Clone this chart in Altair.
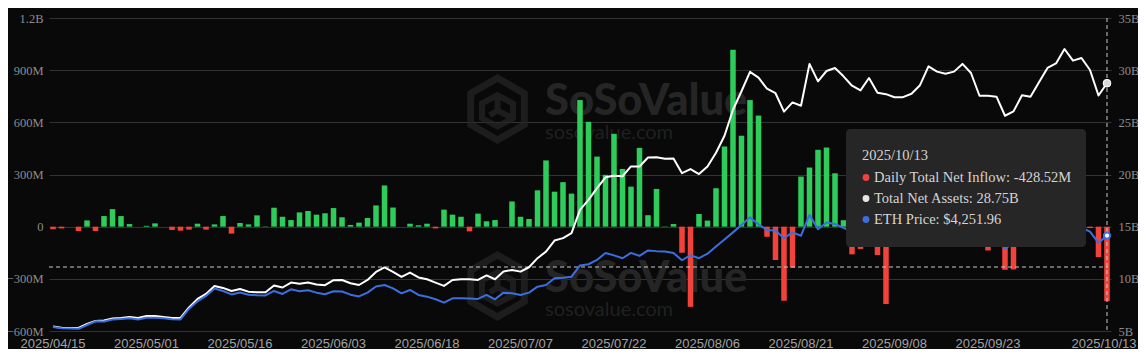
import altair as alt
import pandas as pd

# ---------------- data ----------------
month_days = {
    4: [15, 16, 17, 21, 22, 23, 24, 25, 28, 29, 30],
    5: [1, 2, 5, 6, 7, 8, 9, 12, 13, 14, 15, 16, 19, 20, 21, 22, 23, 27, 28, 29, 30],
    6: [2, 3, 4, 5, 6, 9, 10, 11, 12, 13, 16, 17, 18, 20, 23, 24, 25, 26, 27, 30],
    7: [1, 2, 3, 7, 8, 9, 10, 11, 14, 15, 16, 17, 18, 21, 22, 23, 24, 25, 28, 29, 30, 31],
    8: [1, 4, 5, 6, 7, 8, 11, 12, 13, 14, 15, 18, 19, 20, 21, 22, 25, 26, 27, 28, 29],
    9: [2, 3, 4, 5, 8, 9, 10, 11, 12, 15, 16, 17, 18, 19, 22, 23, 24, 25, 26, 29, 30],
    10: [1, 2, 3, 6, 7, 8, 9, 10, 13],
}
dates = [f"2025/{m:02d}/{d:02d}" for m, days in month_days.items() for d in days]

tick_dates = ["2025/04/15", "2025/05/01", "2025/05/16", "2025/06/03", "2025/06/18",
              "2025/07/07", "2025/07/22", "2025/08/06", "2025/08/21", "2025/09/08",
              "2025/09/23", "2025/10/13"]

# Daily Total Net Inflow (million USD)
inflow_m = [
    -15, -10, 0, -25, 36, -25, 61, 101, 61, 15,
    0, 5, 19, 0, -19, -23, -17, 17, -17, 13,
    61, -40, 21, 13, 65, 2, 109, 57, 38, 82,
    90, 69, 77, 107, 54, 10, 23, 50, 122, 237,
    110, 0, 17, 8, 17, -10, 98, 69, 57, -27,
    75, 31, 38, 0, 145, 57, 44, 209, 381, 201,
    256, 190, 728, 603, 403, 298, 534, 332, 230, 453,
    66, 217, 2, 15, -150, -461, 73, 35, 221, 461,
    1018, 523, 728, 639, -58, -192, -426, -236, 288, 340,
    442, 455, 307, 37, -159, -128, -38, -163, -445, -97,
    45, 172, 113, 406, 360, -62, -2, 213, 48, -76,
    -137, -79, -248, -246, 547, 127, 81, 307, 233, 177,
    421, -8, -8, -175, -428.52,
]

# Total Net Assets (billion USD)
tna_b = [
    5.43, 5.32, 5.29, 5.29, 5.67, 5.96, 6.01, 6.20, 6.25, 6.34,
    6.25, 6.44, 6.44, 6.34, 6.25, 6.25, 7.26, 8.07, 8.55, 9.32,
    9.13, 8.84, 9.03, 8.77, 8.71, 8.71, 9.37, 9.17, 9.64, 9.54,
    9.64, 9.46, 9.39, 9.87, 9.89, 9.58, 9.41, 9.89, 10.66, 11.09,
    10.66, 10.18, 10.60, 10.13, 9.96, 9.64, 9.32, 9.89, 9.96, 9.96,
    9.89, 10.33, 9.96, 10.71, 10.85, 10.69, 11.11, 11.98, 12.61, 13.67,
    13.90, 14.38, 16.61, 17.57, 18.69, 19.73, 19.88, 19.83, 20.77, 20.77,
    21.63, 21.65, 21.51, 21.54, 20.13, 20.52, 20.04, 20.77, 22.08, 23.71,
    26.21, 27.98, 29.84, 29.28, 28.22, 27.79, 26.02, 26.91, 26.59, 30.60,
    28.93, 29.92, 30.21, 29.41, 28.51, 28.06, 29.25, 27.84, 27.70, 27.41,
    27.41, 27.74, 28.56, 30.36, 29.86, 29.66, 29.86, 30.60, 29.73, 27.55,
    27.55, 27.46, 25.63, 26.05, 27.60, 27.46, 28.85, 30.21, 30.65, 32.03,
    30.91, 31.17, 30.02, 27.57, 28.75,
]

# ETH price (USD)
eth_usd = [
    1604, 1566, 1558, 1552, 1662, 1769, 1766, 1822, 1836, 1856,
    1822, 1874, 1870, 1856, 1827, 1824, 2126, 2349, 2503, 2721,
    2648, 2547, 2605, 2538, 2523, 2520, 2648, 2561, 2697, 2639,
    2668, 2599, 2552, 2639, 2634, 2541, 2489, 2599, 2779, 2822,
    2721, 2576, 2677, 2532, 2483, 2407, 2309, 2436, 2440, 2432,
    2416, 2532, 2407, 2599, 2581, 2532, 2599, 2773, 2822, 3016,
    3034, 3063, 3388, 3422, 3547, 3750, 3678, 3596, 3750, 3663,
    3823, 3802, 3794, 3750, 3538, 3683, 3596, 3727, 3933, 4136,
    4345, 4562, 4780, 4577, 4417, 4397, 4176, 4345, 4249, 4852,
    4437, 4629, 4591, 4475, 4370, 4330, 4450, 4300, 4310, 4310,
    4300, 4350, 4460, 4710, 4520, 4500, 4590, 4590, 4470, 4200,
    4170, 4150, 3870, 4030, 4210, 4150, 4350, 4480, 4510, 4690,
    4460, 4480, 4368, 4040, 4251.96,
]

df = pd.DataFrame({
    "date": dates,
    "inflow": [v * 1e6 for v in inflow_m],
    "tna": [v * 1e9 for v in tna_b],
    "eth": eth_usd,
})
df["sign"] = ["pos" if v >= 0 else "neg" for v in inflow_m]
last = df.iloc[[-1]]

# ---------------- style ----------------
BG = "#090909"
GREEN = "#2ecc5a"
RED = "#f2433a"
BLUE = "#3b6fe0"
WHITE = "#ffffff"
W, H = 1062, 313

x_enc = alt.X(
    "date:O", sort=dates, title=None,
    scale=alt.Scale(type="band", paddingInner=0.35, paddingOuter=0.147),
    axis=alt.Axis(values=tick_dates, labelAngle=0, domain=False, ticks=False, grid=False,
                  labelFont="Liberation Sans", labelFontSize=13, labelColor="#a3a3a3",
                  labelPadding=6, labelOverlap=False,
                  labelOffset={"condition": {"test": f"datum.value == '{dates[-1]}'",
                                             "value": -3}, "value": 0}),
)
x_plain = alt.X("date:O", sort=dates)

dummy = pd.DataFrame({"k": [0]})

# ---------------- watermark ----------------
hexagon = "M0,-1 L0.866,-0.5 L0.866,0.5 L0,1 L-0.866,0.5 L-0.866,-0.5 Z"
inner = ("M-0.5,-0.18 L0,-0.45 L0.5,-0.18 L0.5,0.3 L0,0.56 L-0.5,0.3 Z "
         "M0,-0.45 L0,0.05 L-0.25,0.2 M0,0.05 L0.5,0.3")
wm_layers = []
for dy in (0, 177):
    wm_layers.append(alt.Chart(dummy).mark_point(shape=hexagon, filled=False, stroke="#262626",
                                                 strokeWidth=7, size=3844)
                     .encode(x=alt.value(448.5), y=alt.value(91 + dy)))
    wm_layers.append(alt.Chart(dummy).mark_point(shape=inner, filled=False, stroke="#262626",
                                                 strokeWidth=6, size=3844)
                     .encode(x=alt.value(448.5), y=alt.value(91 + dy)))
    wm_layers.append(alt.Chart(dummy).mark_text(text="SoSoValue", font="Lato", fontSize=43.5,
                                                fontWeight=900, color="#252525", align="left",
                                                baseline="alphabetic")
                     .encode(x=alt.value(496), y=alt.value(97 + dy)))
    wm_layers.append(alt.Chart(dummy).mark_text(text="sosovalue.com", font="Lato", fontSize=20,
                                                color="#202020", align="left",
                                                baseline="alphabetic")
                     .encode(x=alt.value(496), y=alt.value(121 + dy)))

# ---------------- main marks ----------------
bars = alt.Chart(df).mark_bar().encode(
    x=x_enc,
    y=alt.Y("inflow:Q", title=None,
            scale=alt.Scale(domain=[-6e8, 1.2e9], nice=False),
            axis=alt.Axis(values=[-6e8, -3e8, 0, 3e8, 6e8, 9e8, 1.2e9],
                          labelExpr="datum.value == 0 ? '0' : (abs(datum.value) >= 1e9 ? "
                                    "format(datum.value / 1e9, '.1f') + 'B' : "
                                    "format(datum.value / 1e6, '.0f') + 'M')",
                          grid=True, gridColor="#333333", gridWidth=1, domain=False,
                          ticks=False, tickSize=0, labelFont="Liberation Serif",
                          labelFontSize=12.5, labelColor="#8c8c8c", labelPadding=6)),
    color=alt.Color("sign:N", scale=alt.Scale(domain=["pos", "neg"], range=[GREEN, RED]),
                    legend=None),
)

hcross = alt.Chart(dummy).mark_rule(color="#c8c8c8", strokeDash=[4, 3], strokeWidth=1).encode(
    x=alt.value(0), x2=alt.value(1059), y=alt.value(249))

tna_line = alt.Chart(df).mark_line(color=WHITE, strokeWidth=2, strokeJoin="round").encode(
    x=x_plain,
    y=alt.Y("tna:Q", title=None,
            scale=alt.Scale(domain=[5e9, 35e9], nice=False, zero=False),
            axis=alt.Axis(orient="right", values=[5e9, 10e9, 15e9, 20e9, 25e9, 30e9, 35e9],
                          labelExpr="format(datum.value / 1e9, '.0f') + 'B'",
                          grid=False, domain=False, ticks=False, tickSize=0,
                          labelFont="Liberation Serif", labelFontSize=12.5,
                          labelColor="#8c8c8c", labelPadding=7)),
)

eth_scale = alt.Scale(domain=[1488, 10556], nice=False, zero=False)
eth_line = alt.Chart(df).mark_line(color=BLUE, strokeWidth=2, strokeJoin="round").encode(
    x=x_plain,
    y=alt.Y("eth:Q", scale=eth_scale, axis=None),
)

vcross = alt.Chart(last).mark_rule(color="#c8c8c8", strokeDash=[4, 3], strokeWidth=1).encode(
    x=x_plain, y=alt.value(0), y2=alt.value(H))

tna_pt = alt.Chart(last).mark_point(filled=True, fill="#d9d9d9", stroke="#ffffff",
                                     strokeWidth=1, size=60, opacity=1).encode(
    x=x_plain,
    y=alt.Y("tna:Q", scale=alt.Scale(domain=[5e9, 35e9], nice=False, zero=False), axis=None))
eth_pt = alt.Chart(last).mark_point(filled=True, fill="#ffffff", stroke=BLUE,
                                     strokeWidth=2, size=40, opacity=1).encode(
    x=x_plain, y=alt.Y("eth:Q", scale=eth_scale, axis=None))

# ---------------- tooltip ----------------
r = df.iloc[-1]
tip_box = alt.Chart(dummy).mark_rect(color="#262626", cornerRadius=4).encode(
    x=alt.value(797), x2=alt.value(1037), y=alt.value(111), y2=alt.value(229))
TIP_TXT = dict(font="Liberation Serif", fontSize=14.5, color="#d4d4d4", align="left",
               baseline="middle")
tip_title = alt.Chart(dummy).mark_text(text=r["date"], **TIP_TXT).encode(
    x=alt.value(813), y=alt.value(138))
rows = [
    (RED, f"Daily Total Net Inflow: {inflow_m[-1]:.2f}M", 159.5),
    ("#e6e6e6", f"Total Net Assets: {tna_b[-1]:.2f}B", 180.5),
    (BLUE, f"ETH Price: ${eth_usd[-1]:,.2f}", 201.5),
]
tip_layers = [tip_box, tip_title]
for col, txt, yy in rows:
    tip_layers.append(alt.Chart(dummy).mark_point(filled=True, color=col, size=46, opacity=1)
                      .encode(x=alt.value(817), y=alt.value(yy)))
    tip_layers.append(alt.Chart(dummy).mark_text(text=txt, **TIP_TXT)
                      .encode(x=alt.value(825), y=alt.value(yy)))

page_css = "html,body{background:#090909;overflow:hidden}"

chart = alt.layer(
    *wm_layers, bars, hcross, tna_line, eth_line, vcross, tna_pt, eth_pt, *tip_layers
).resolve_scale(
    y="independent"
).properties(
    width=W, height=H,
    padding={"left": 41, "top": 10, "right": 27, "bottom": 18},
    autosize=alt.AutoSizeParams(type="none"),
    background=BG,
    usermeta={"embedOptions": {"defaultStyle": page_css}},
).configure_view(stroke=None)

chart.save("out.html", embed_options={"renderer": "svg", "actions": False})
